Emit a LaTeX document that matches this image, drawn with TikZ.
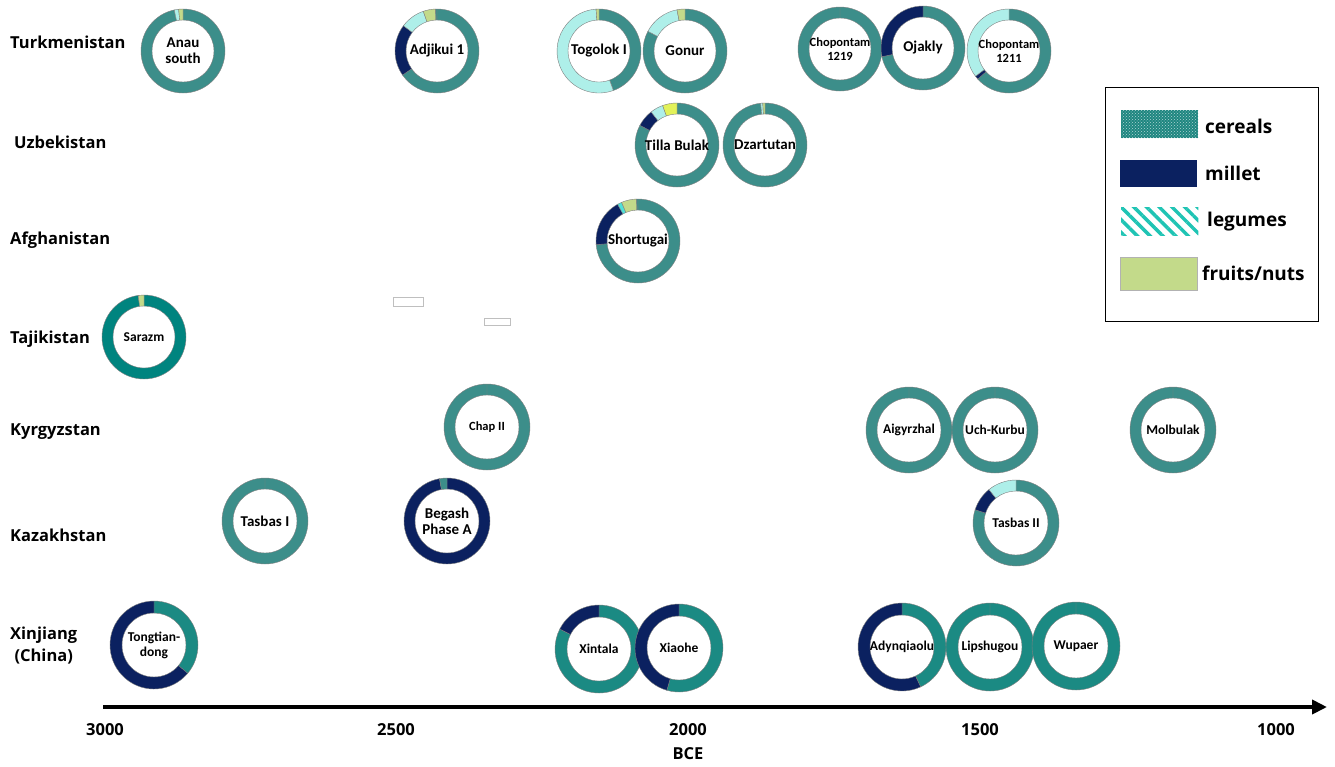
\documentclass[tikz,border=0pt]{standalone}
\usepackage{fontspec}
\setmainfont{Carlito}
\newfontfamily\osans{Open Sans}
\usetikzlibrary{calc,backgrounds,arrows.meta,patterns,patterns.meta}
\definecolor{cerA}{HTML}{3C8E8A}
\definecolor{cerX}{HTML}{1B8A83}
\definecolor{cerS}{HTML}{00847F}
\definecolor{mil}{HTML}{0B2160}
\definecolor{leg}{HTML}{AEEFE9}
\definecolor{legB}{HTML}{4FE0D8}
\definecolor{fru}{HTML}{C3DA8A}
\definecolor{fruY}{HTML}{E2F25A}
\definecolor{stripe}{HTML}{1FC4B4}
\definecolor{swcer}{HTML}{1E8680}
\def\dRo{42}\def\dRi{31}
\newcommand\donut[2]{%
 \begin{pgfonlayer}{background}
 \foreach \a/\b/\c in {#2}{
   \fill[fill=\c, draw=black!50, line width=0.4pt]
     ($(#1)+(\a-90:\dRo)$) arc[start angle=\a-90, end angle=\b-90, radius=\dRo]
     -- ($(#1)+(\b-90:\dRi)$) arc[start angle=\b-90, end angle=\a-90, radius=\dRi] -- cycle;
 }
 \end{pgfonlayer}}
\tikzset{
 dlab/.style={circle, minimum size=62pt, inner sep=0pt, align=center, font=\bfseries\fontsize{15}{16}\selectfont},
 dsmall/.style={font=\bfseries\fontsize{12.5}{14}\selectfont},
 dmid/.style={font=\bfseries\fontsize{13.5}{15}\selectfont},
 rowlab/.style={anchor=west, inner sep=0pt, align=center, font=\osans\bfseries\fontsize{16.5}{22}\selectfont},
 axlab/.style={inner sep=0pt, font=\osans\bfseries\fontsize{16.5}{20}\selectfont},
 leglab/.style={anchor=west, inner sep=0pt, font=\osans\bfseries\fontsize{19}{22}\selectfont},
 swatch/.style={anchor=north west, inner sep=0pt, minimum width=77pt},
 ghost/.style={draw=black!25, line width=0.5pt, inner sep=0pt}
}
\begin{document}
\begin{tikzpicture}[x=1pt,y=-1pt]
\begin{pgfonlayer}{background}
\fill[white] (0,0) rectangle (1335,766);
\end{pgfonlayer}
\useasboundingbox (0,0) rectangle (1335,766);

% row labels
\node[rowlab] (rTu) at (10,42) {Turkmenistan};
\node[rowlab] (rUz) at (14,142) {Uzbekistan};
\node[rowlab] (rAf) at (10,240) {Afghanistan};
\node[rowlab] (rTj) at (10,339) {Tajikistan};
\node[rowlab] (rKg) at (10,432) {Kyrgyzstan};
\node[rowlab] (rKz) at (10,535) {Kazakhstan};
\node[rowlab] (rXj) at (10,646) {Xinjiang\\(China)};

% Turkmenistan
\node[dlab] (anau) at (183,51) {Anau\\south};
\donut{anau}{0/348/cerA, 348/354/leg, 354/360/fru}
\node[dlab] (adj) at (437,51) {Adjikui 1};
\donut{adj}{0/235/cerA, 235/307/mil, 307/341/leg, 341/358/fru, 358/360/cerA}
\node[dlab] (tog) at (599,51) {Togolok I};
\donut{tog}{0/160/cerA, 160/356/leg, 356/360/fru}
\node[dlab] (gon) at (685,51) {Gonur};
\donut{gon}{0/298/cerA, 298/349/leg, 349/360/fru}
\node[dlab,dsmall] (ch19) at (840,49) {Chopontam\\1219};
\donut{ch19}{0/360/cerA}
\node[dlab] (oja) at (923,48) {Ojakly};
\donut{oja}{0/258/cerA, 258/360/mil}
\node[dlab,dsmall] (ch11) at (1009,51) {Chopontam\\1211};
\donut{ch11}{0/228/cerA, 228/233/mil, 233/360/leg}

% Uzbekistan
\node[dlab] (tilla) at (677,145) {Tilla Bulak};
\donut{tilla}{0/298/cerA, 298/322/mil, 322/340/leg, 340/360/fruY}
\node[dlab] (dza) at (765,145) {Dzartutan};
\donut{dza}{0/354/cerA, 354/357/leg, 357/360/fru}

% Afghanistan
\node[dlab] (sho) at (638,241) {Shortugai};
\donut{sho}{0/265/cerA, 265/331/mil, 331/337/legB, 337/358/fru, 358/360/cerA}

% Tajikistan
\node[dlab,dmid] (sar) at (144,337) {Sarazm};
\donut{sar}{0/352/cerS, 352/360/fru}

% Kyrgyzstan
\def\dRo{43}\def\dRi{32}
\node[dlab,dsmall] (chap) at (487,427) {Chap II};
\donut{chap}{0/360/cerA}
\node[dlab,dmid] (aig) at (909,430) {Aigyrzhal};
\donut{aig}{0/360/cerA}
\node[dlab,dmid] (uch) at (995,430) {Uch-Kurbu};
\donut{uch}{0/360/cerA}
\node[dlab,dmid] (mol) at (1173,430) {Molbulak};
\donut{mol}{0/360/cerA}

% Kazakhstan
\node[dlab] (tas1) at (265,521) {Tasbas I};
\donut{tas1}{0/360/cerA}
\node[dlab] (beg) at (447,521) {Begash\\Phase A};
\donut{beg}{0/350/mil, 350/360/cerA}
\node[dlab,dmid] (tas2) at (1016,523) {Tasbas II};
\donut{tas2}{0/288/cerA, 288/321/mil, 321/360/leg}

% Xinjiang
\def\dRo{44}\def\dRi{32}
\node[dlab,dmid] (ton) at (154,645) {Tongtian-\\dong};
\donut{ton}{0/130/cerX, 130/360/mil}
\node[dlab,dmid] (xin) at (599,649) {Xintala};
\donut{xin}{0/297/cerX, 297/360/mil}
\node[dlab,dmid] (xia) at (679,648) {Xiaohe};
\donut{xia}{0/196/cerX, 196/360/mil}
\node[dlab,dmid] (ady) at (902,647) {Adynqiaolu};
\donut{ady}{0/155/cerX, 155/360/mil}
\node[dlab,dmid] (lip) at (990,647) {Lipshugou};
\donut{lip}{0/360/cerX}
\node[dlab,dmid] (wup) at (1076,646) {Wupaer};
\donut{wup}{0/360/cerX}

% stray empty boxes
\node[ghost, minimum width=30pt, minimum height=9pt] (g1) at (408,301.5) {};
\node[ghost, minimum width=26pt, minimum height=7pt] (g2) at (497,321.5) {};

% legend
\node[draw=black, line width=1pt, minimum width=213pt, minimum height=234pt, inner sep=0pt] (legend) at (1212,204) {};
\node[swatch, minimum height=28pt, fill=swcer] (sw1) at (1121,110) {};
\fill[pattern=crosshatch dots, pattern color=white!65!swcer] (sw1.north west) rectangle (sw1.south east);
\node[swatch, minimum height=27pt, fill=mil] (sw2) at (1120,160) {};
\node[swatch, minimum height=28pt] (sw3) at (1121,207) {};
\begin{scope}
\clip (sw3.north west) rectangle (sw3.south east);
\fill[pattern={Lines[angle=-45, distance=9pt, line width=3.5pt]}, pattern color=stripe] (sw3.north west) rectangle (sw3.south east);
\end{scope}
\node[swatch, minimum height=33pt, fill=fru, draw=black!30, line width=0.4pt] (sw4) at (1120,257) {};
\node[leglab] (l1) at (1205,126) {cereals};
\node[leglab] (l2) at (1205,173) {millet};
\node[leglab] (l3) at (1207,222) {legumes};
\node[leglab] (l4) at (1202,273) {fruits/nuts};

% axis
\coordinate (axs) at (103,707);
\coordinate (axe) at (1327,707);
\draw[line width=4.5pt, -{Triangle[length=15pt,width=14pt]}] (axs) -- (axe);
\node[axlab] (t3000) at (105,730) {3000};
\node[axlab] (t2500) at (396,730) {2500};
\node[axlab] (t2000) at (688,730) {2000};
\node[axlab] (t1500) at (980,730) {1500};
\node[axlab] (t1000) at (1276,730) {1000};
\node[axlab] (bce) at (688,754) {BCE};
\end{tikzpicture}
\end{document}
